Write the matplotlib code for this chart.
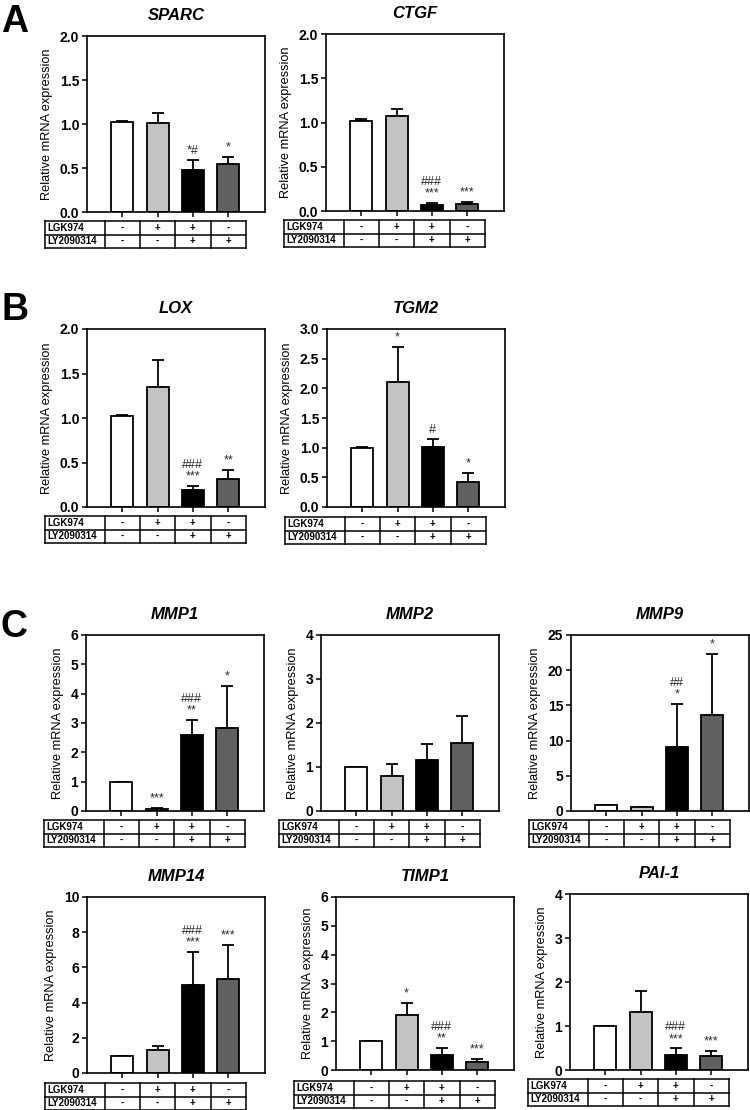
import matplotlib
matplotlib.use('Agg')
import matplotlib.pyplot as plt
from matplotlib.lines import Line2D
from matplotlib.transforms import blended_transform_factory

plt.rcParams['font.family'] = ['Liberation Sans', 'DejaVu Sans']

# ---------------- data ----------------
conditions = ['Control', 'LGK974', 'LGK974+LY2090314', 'LY2090314']
lgk974 = ['-', '+', '+', '-']
ly2090314 = ['-', '-', '+', '+']
row_labels = ['LGK974', 'LY2090314']
bar_colors = ['#FFFFFF', '#C3C3C3', '#000000', '#606060']

genes = ['SPARC', 'CTGF', 'LOX', 'TGM2', 'MMP1', 'MMP2', 'MMP9', 'MMP14', 'TIMP1', 'PAI-1']

sparc_mean = [1.02, 1.01, 0.48, 0.54]
sparc_err = [0.01, 0.12, 0.11, 0.09]
sparc_sig = ['', '', '*#', '*']

ctgf_mean = [1.02, 1.07, 0.07, 0.08]
ctgf_err = [0.02, 0.08, 0.02, 0.02]
ctgf_sig = ['', '', '###\n***', '***']

lox_mean = [1.02, 1.35, 0.19, 0.32]
lox_err = [0.01, 0.30, 0.05, 0.10]
lox_sig = ['', '', '###\n***', '**']

tgm2_mean = [1.00, 2.10, 1.01, 0.42]
tgm2_err = [0.01, 0.60, 0.13, 0.16]
tgm2_sig = ['', '*', '#', '*']

mmp1_mean = [1.00, 0.07, 2.59, 2.83]
mmp1_err = [0.00, 0.02, 0.52, 1.42]
mmp1_sig = ['', '***', '###\n**', '*']

mmp2_mean = [1.00, 0.80, 1.17, 1.55]
mmp2_err = [0.00, 0.27, 0.35, 0.62]
mmp2_sig = ['', '', '', '']

mmp9_mean = [0.90, 0.50, 9.1, 13.7]
mmp9_err = [0.00, 0.12, 6.1, 8.6]
mmp9_sig = ['', '', '##\n*', '*']

mmp14_mean = [0.95, 1.29, 4.98, 5.35]
mmp14_err = [0.00, 0.23, 1.90, 1.90]
mmp14_sig = ['', '', '###\n***', '***']

timp1_mean = [1.02, 1.90, 0.51, 0.27]
timp1_err = [0.00, 0.44, 0.26, 0.10]
timp1_sig = ['', '*', '###\n**', '***']

pai1_mean = [1.00, 1.31, 0.33, 0.32]
pai1_err = [0.00, 0.48, 0.16, 0.11]
pai1_sig = ['', '', '###\n***', '***']

y_max = [2.0, 2.0, 2.0, 3.0, 6, 4, 25, 10, 6, 4]
y_step = [0.5, 0.5, 0.5, 0.5, 1, 1, 5, 2, 1, 1]
y_fmt = ['%.1f', '%.1f', '%.1f', '%.1f', '%d', '%d', '%d', '%d', '%d', '%d']

means = [sparc_mean, ctgf_mean, lox_mean, tgm2_mean, mmp1_mean, mmp2_mean,
         mmp9_mean, mmp14_mean, timp1_mean, pai1_mean]
errs = [sparc_err, ctgf_err, lox_err, tgm2_err, mmp1_err, mmp2_err,
        mmp9_err, mmp14_err, timp1_err, pai1_err]
sigs = [sparc_sig, ctgf_sig, lox_sig, tgm2_sig, mmp1_sig, mmp2_sig,
        mmp9_sig, mmp14_sig, timp1_sig, pai1_sig]

# ---------------- layout (pixels) ----------------
W, H = 750, 1110
UNIT = 35.3
XMAX = 5.05
# left, top, bottom of each axes; table top
layout = [
    (87, 36, 212, 221),
    (326, 34, 211, 220),
    (87, 329, 507, 516),
    (327, 329, 507, 517),
    (86, 635, 811, 820),
    (321, 635, 811, 820),
    (571, 635, 811, 820),
    (87, 897, 1073, 1083),
    (336, 897, 1070, 1081),
    (570, 894, 1070, 1079),
]
ROW_H = 13.5
TABLE_LEFT = -1.2

fig = plt.figure(figsize=(W / 100, H / 100), dpi=100)

for i, gene in enumerate(genes):
    left, top, bottom, ttop = layout[i]
    width = UNIT * XMAX
    ax = fig.add_axes([left / W, 1 - bottom / H, width / W, (bottom - top) / H])
    x = [1, 2, 3, 4]
    m = means[i]
    e = errs[i]
    ax.errorbar(x, m, yerr=[[0] * 4, e], fmt='none', ecolor='black',
                elinewidth=1.3, capsize=4, capthick=1.3, zorder=1)
    ax.bar(x, m, width=0.62, color=bar_colors, edgecolor='black',
           linewidth=1.3, zorder=2)
    for xi, mi, ei, s in zip(x, m, e, sigs[i]):
        if s:
            ax.annotate(s, xy=(xi, mi + ei), xytext=(0, 2.5),
                        textcoords='offset points', ha='center', va='bottom',
                        fontsize=9, color='#2a2a2a', linespacing=0.95,
                        annotation_clip=False)
    ax.set_xlim(0, XMAX)
    ax.set_ylim(0, y_max[i])
    ticks = []
    v = 0.0
    while v <= y_max[i] + 1e-9:
        ticks.append(v)
        v += y_step[i]
    ax.set_yticks(ticks)
    ax.set_yticklabels([y_fmt[i] % t for t in ticks], fontweight='bold', fontsize=10)
    ax.set_xticks(x)
    ax.set_xticklabels([])
    ax.tick_params(axis='both', direction='out', length=3.5, width=1.1, pad=2)
    for sp in ax.spines.values():
        sp.set_linewidth(1.2)
    ax.set_ylabel('Relative mRNA expression', fontsize=9.2, labelpad=5)
    h_px = bottom - top
    ax.text(0.5, 1 + 16 / h_px, gene, transform=ax.transAxes, ha='center',
            va='baseline', fontsize=12, fontweight='bold', fontstyle='italic')

    # table
    trans = blended_transform_factory(ax.transData, fig.transFigure)
    ys = [1 - (ttop + k * ROW_H) / H for k in range(3)]
    xs = [TABLE_LEFT, 0.5, 1.5, 2.5, 3.5, 4.5]
    for yv in ys:
        ax.add_artist(Line2D([TABLE_LEFT, 4.5], [yv, yv], transform=trans,
                             color='black', lw=1.1, clip_on=False))
    for xv in xs:
        ax.add_artist(Line2D([xv, xv], [ys[0], ys[2]], transform=trans,
                             color='black', lw=1.1, clip_on=False))
    for r, (lab, vals) in enumerate(zip(row_labels, [lgk974, ly2090314])):
        yc = (ys[r] + ys[r + 1]) / 2
        ax.text(TABLE_LEFT + 0.08, yc, lab, transform=trans, ha='left',
                va='center', fontsize=7, fontweight='bold', clip_on=False)
        for xi, s in zip(x, vals):
            ax.text(xi, yc, s, transform=trans, ha='center', va='center',
                    fontsize=7, fontweight='bold', clip_on=False)

# panel letters
for lab, ypx in [('A', 32), ('B', 320), ('C', 637)]:
    fig.text(1 / W, 1 - ypx / H, lab, fontsize=27, fontweight='bold',
             ha='left', va='baseline')

fig.savefig('out.png', dpi=100)
